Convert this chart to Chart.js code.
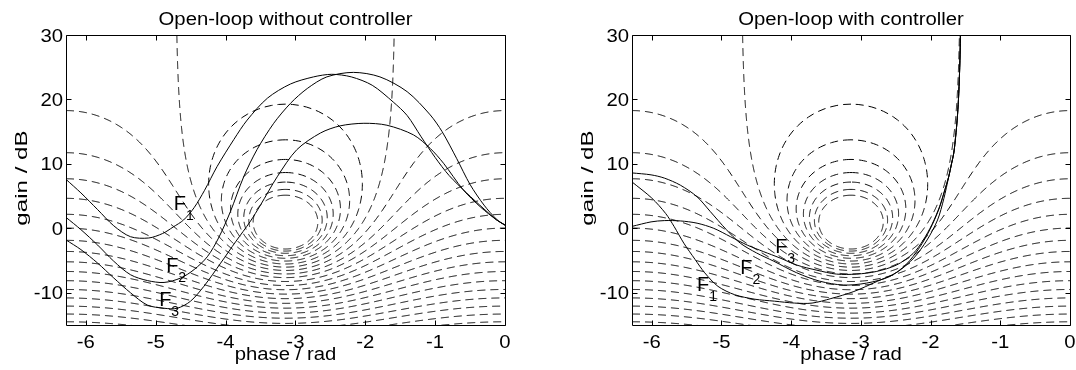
<!DOCTYPE html>
<html><head><meta charset="utf-8">
<script src="https://cdn.jsdelivr.net/npm/chart.js@4.4.1/dist/chart.umd.min.js"></script>
<style>
html,body{margin:0;padding:0;background:#fff;width:1076px;height:370px;overflow:hidden}
#wrapL{position:absolute;left:0;top:0;width:566px;height:370px}
#wrapR{position:absolute;left:566px;top:0;width:510px;height:370px}
canvas{display:block}
</style></head><body>
<div id="wrapL"><canvas id="cL" width="566" height="370"></canvas></div>
<div id="wrapR"><canvas id="cR" width="510" height="370"></canvas></div>
<script>
// ---------- axis ticks ----------
const xTicks = [-6, -5, -4, -3, -2, -1, 0];
const yTicks = [-10, 0, 10, 20, 30];
const phaseMin = -2 * Math.PI, phaseMax = 0;
const gainMin = -15, gainMax = 30;

// Nichols grid: closed-loop magnitude levels (dB)
const gridLevelsDb = [7, 6, 5, 4, 3, 2, 1, 0, -1, -2, -3, -4, -5, -6, -7, -8, -9, -10,
  -11, -12, -13, -14, -15, -16, -17, -18, -19, -20];

// ---------- Open-loop without controller ----------
const woF1Phase = [-6.283,-6.07,-5.83,-5.6,-5.36,-5.1,-4.9,-4.75,-4.6,-4.45,-4.3,-4.12,-3.88,-3.69,-3.4,-3.07,-2.74,-2.48,-2.2,-1.9,-1.6,-1.4,-1.2,-1.0,-0.8,-0.55,-0.3,-0.12,0];
const woF1Gain  = [7.6,5.5,2.9,0.4,-1.3,-1.5,-0.8,0.2,1.3,3.2,5.9,9.6,13.8,16.8,20.2,22.4,23.5,23.9,23.5,22.2,19.6,17.5,14.2,11.0,8.2,5.5,3.0,1.3,0.5];
const woF2Phase = [-6.283,-6.07,-5.83,-5.6,-5.36,-5.12,-4.88,-4.64,-4.45,-4.26,-4.1,-3.93,-3.74,-3.55,-3.31,-3.07,-2.83,-2.55,-2.17,-1.79,-1.4,-1.07,-0.9,-0.69,-0.5,-0.3,-0.12,0];
const woF2Gain  = [1.7,-0.2,-2.6,-5.1,-7.2,-8.1,-8.4,-7.7,-6.4,-4.4,-1.5,2.6,8.0,12.2,16.3,19.4,21.7,23.5,24.2,23.5,21.2,17.6,15.0,10.8,6.8,3.6,1.4,0.5];
const woF3Phase = [-6.283,-6.07,-5.83,-5.6,-5.36,-5.12,-4.88,-4.69,-4.5,-4.31,-4.07,-3.85,-3.65,-3.5,-3.26,-2.98,-2.64,-2.36,-2.02,-1.69,-1.31,-1.07,-0.88,-0.6,-0.35,-0.12,0];
const woF3Gain  = [-1.8,-3.3,-5.4,-7.7,-10.0,-11.9,-12.4,-12.4,-11.3,-9.0,-5.4,-2.0,1.0,3.6,8.0,12.2,14.8,15.9,16.3,16.0,14.5,12.4,10.1,6.0,3.3,1.3,0.5];

// ---------- Open-loop with controller ----------
const wcF1Phase = [-6.283,-6.0,-5.8,-5.68,-5.54,-5.38,-5.24,-5.05,-4.81,-4.52,-4.24,-3.95,-3.7,-3.43,-3.1,-2.76,-2.48,-2.24,-2.05,-1.9,-1.81,-1.74,-1.70,-1.667,-1.64,-1.619,-1.6,-1.585,-1.575,-1.571];
const wcF1Gain  = [7.2,4.7,2.3,0.3,-2.3,-4.8,-6.9,-9.0,-10.3,-11.0,-11.3,-11.6,-11.6,-10.9,-9.8,-8.2,-6.8,-4.6,-1.8,1.3,4.6,8.0,10.0,11.7,14.3,16.8,20,24,28,31];
const wcF2Phase = [-6.283,-6.01,-5.82,-5.59,-5.35,-5.16,-4.93,-4.73,-4.5,-4.25,-3.92,-3.59,-3.25,-2.92,-2.59,-2.35,-2.16,-2.01,-1.88,-1.8,-1.74,-1.70,-1.667,-1.64,-1.619,-1.6,-1.585,-1.575,-1.571];
const wcF2Gain  = [8.6,8.3,7.8,6.7,4.9,2.6,-0.2,-2.3,-3.8,-5.1,-6.9,-8.2,-8.8,-8.5,-7.5,-5.6,-3.0,-0.2,3.0,5.8,8.0,10.0,11.7,14.3,16.8,20,24,28,31];
const wcF3Phase = [-6.283,-6.01,-5.82,-5.59,-5.35,-5.11,-4.87,-4.63,-4.4,-4.16,-3.92,-3.63,-3.35,-3.06,-2.78,-2.49,-2.25,-2.11,-1.98,-1.87,-1.8,-1.74,-1.70,-1.667,-1.64,-1.619,-1.6,-1.585,-1.575,-1.571];
const wcF3Gain  = [0.3,1.0,1.2,1.15,0.8,0.0,-1.3,-2.6,-3.6,-4.6,-5.7,-6.5,-7.1,-7.1,-6.7,-5.7,-3.9,-1.9,0.6,3.4,5.8,8.0,10.0,11.7,14.3,16.8,20,24,28,31];

// curve labels: [text, subscript, phase, gain]
const woLabels = [['F','1',-4.74,2.87],['F','2',-4.85,-6.70],['F','3',-4.95,-12.12]];
const wcLabels = [['F','3',-4.23,-3.84],['F','2',-4.73,-7.05],['F','1',-5.35,-9.8]];

const titles = ['Open-loop without controller', 'Open-loop with controller'];
const xTitle = 'phase / rad';
const yTitle = 'gain / dB';

// ---------- Nichols grid contour (constant closed-loop magnitude) ----------
function nicholsContour(mDb) {
  const pts = [];
  const M = Math.pow(10, mDb / 20);
  if (mDb < 0) {
    const N = 700, M2 = M * M;
    for (let i = 0; i <= N; i++) {
      const phi = -2 * Math.PI + 2 * Math.PI * i / N;
      const c = Math.cos(phi);
      const g = (M2 * c + Math.sqrt(M2 * M2 * c * c + M2 * (1 - M2))) / (1 - M2);
      pts.push({x: phi, y: 20 * Math.log10(g)});
    }
  } else if (mDb === 0) {
    for (let k = 600; k >= -600; k--) {
      const im = Math.sinh(k / 100) / 2;
      let ph = Math.atan2(im, -0.5);
      if (ph > 0) ph -= 2 * Math.PI;
      pts.push({x: ph, y: 20 * Math.log10(Math.hypot(0.5, im))});
    }
  } else {
    const N = 500;
    for (let i = 0; i <= N; i++) {
      const th = 2 * Math.PI * i / N;
      const tr = M * Math.cos(th), ti = M * Math.sin(th);
      const dr = 1 - tr, di = -ti, den = dr * dr + di * di;
      const lr = (tr * dr + ti * di) / den, li = (ti * dr - tr * di) / den;
      let ph = Math.atan2(li, lr);
      if (ph > 0) ph -= 2 * Math.PI;
      pts.push({x: ph, y: 20 * Math.log10(Math.hypot(lr, li))});
    }
  }
  return pts;
}

const FONT = '"Liberation Sans", Arial, Helvetica, sans-serif';

function drawText(ctx, str, x, y, align, size, stretch, vertical) {
  ctx.save();
  ctx.translate(x, y);
  if (vertical) ctx.rotate(-Math.PI / 2);
  ctx.scale(stretch, 1);
  ctx.font = size + 'px ' + FONT;
  ctx.textAlign = align;
  ctx.textBaseline = 'alphabetic';
  ctx.fillText(str, 0, 0);
  ctx.restore();
}

const decoPlugin = {
  id: 'deco',
  afterDatasetsDraw(chart, args, opts) {
    const {ctx, chartArea: a, scales: {x, y}} = chart;
    ctx.save();
    ctx.strokeStyle = '#000';
    ctx.lineWidth = 1;
    ctx.setLineDash([]);
    const L = Math.round(a.left) + 0.5, R = Math.round(a.right) + 0.5;
    const T = Math.round(a.top) + 0.5, B = Math.round(a.bottom) + 0.5;
    ctx.beginPath();
    ctx.rect(L, T, R - L, B - T);
    const tl = 5;
    xTicks.forEach(v => {
      const px = Math.round(x.getPixelForValue(v)) + 0.5;
      ctx.moveTo(px, B); ctx.lineTo(px, B - tl);
      ctx.moveTo(px, T); ctx.lineTo(px, T + tl);
    });
    yTicks.forEach(v => {
      const py = Math.round(y.getPixelForValue(v)) + 0.5;
      ctx.moveTo(L, py); ctx.lineTo(L + tl, py);
      ctx.moveTo(R, py); ctx.lineTo(R - tl, py);
    });
    ctx.stroke();

    ctx.fillStyle = '#000';
    const FS = 17.5, ST = 1.16;
    xTicks.forEach(v => drawText(ctx, String(v), x.getPixelForValue(v), 348, 'center', FS, ST));
    yTicks.forEach(v => drawText(ctx, String(v), a.left - 3, y.getPixelForValue(v) + 6.5, 'right', FS, ST));
    const cx = (a.left + a.right) / 2;
    drawText(ctx, opts.title, cx, 25, 'center', FS, ST);
    drawText(ctx, xTitle, cx, 360, 'center', FS, ST);
    drawText(ctx, yTitle, 27, (a.top + a.bottom) / 2 - 2, 'center', 17, 1.42, true);
    // curve labels
    opts.labels.forEach(([t, s, lx, ly]) => {
      const px = x.getPixelForValue(lx), py = y.getPixelForValue(ly);
      ctx.font = '20px ' + FONT;
      const w = ctx.measureText(t).width;
      drawText(ctx, t, px, py, 'left', 20, 1);
      drawText(ctx, s, px + w, py + 10, 'left', 14, 1);
    });
    ctx.restore();
  }
};

function curveDataset(ph, g) {
  return {data: ph.map((p, i) => ({x: p, y: g[i]})), borderColor: '#000', borderWidth: 1,
    pointRadius: 0, tension: 0.3, fill: false};
}

function makeChart(id, curves, labels, title, padRight) {
  const datasets = curves.map(c => curveDataset(c[0], c[1]));
  gridLevelsDb.forEach(lvl => datasets.push({data: nicholsContour(lvl), borderColor: '#000',
    borderWidth: 1, borderDash: [8, 5], pointRadius: 0, tension: 0, fill: false}));
  return new Chart(document.getElementById(id), {
    type: 'line',
    data: {datasets},
    options: {
      responsive: false, animation: false, devicePixelRatio: 1,
      layout: {padding: {left: 0, right: padRight, top: 35, bottom: 0}},
      plugins: {legend: {display: false}, tooltip: {enabled: false}, title: {display: false},
        deco: {title, labels}},
      events: [],
      scales: {
        x: {type: 'linear', min: phaseMin, max: phaseMax, grid: {display: false}, border: {display: false},
          ticks: {display: false}, afterBuildTicks: s => { s.ticks = xTicks.map(v => ({value: v})); },
          afterFit: s => { s.height = 45; }},
        y: {type: 'linear', min: gainMin, max: gainMax, grid: {display: false}, border: {display: false},
          ticks: {display: false}, afterBuildTicks: s => { s.ticks = yTicks.map(v => ({value: v})); },
          afterFit: s => { s.width = 66; }}
      }
    },
    plugins: [decoPlugin]
  });
}

makeChart('cL', [[woF1Phase, woF1Gain], [woF2Phase, woF2Gain], [woF3Phase, woF3Gain]], woLabels, titles[0], 61);
makeChart('cR', [[wcF1Phase, wcF1Gain], [wcF2Phase, wcF2Gain], [wcF3Phase, wcF3Gain]], wcLabels, titles[1], 6);
</script>
</body></html>
